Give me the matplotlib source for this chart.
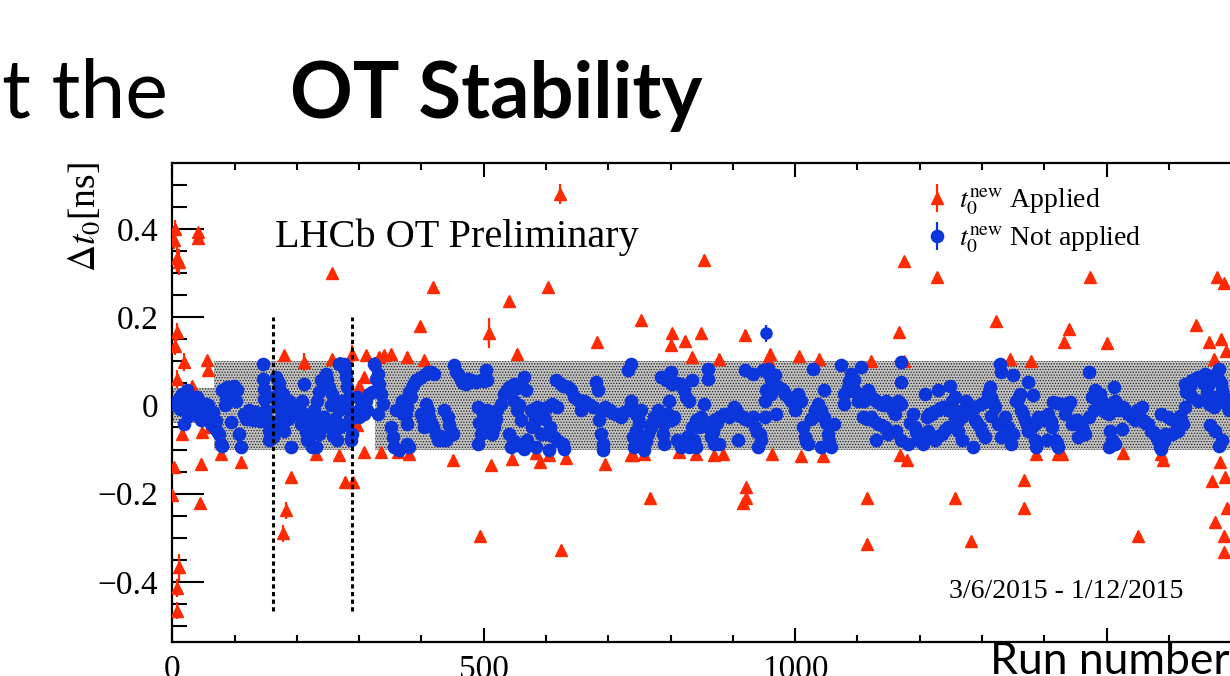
import numpy as np
import matplotlib
matplotlib.use("Agg")
from matplotlib import pyplot as plt
from matplotlib.patches import Rectangle
from matplotlib.ticker import MultipleLocator, FuncFormatter

# --- data: run number, delta t0 [ns] ---
red_run = [
    2, 5, 8, 10, 42, 42, 8, 5, 19, 56, 58, 32, 8,
    16, 48, 61, 78, 46, 110, 3, 0, 44, 10, 8, 8,
    179, 212, 257, 289, 311, 332, 351, 340, 308, 300, 297,
    230, 268, 308, 335, 363, 191, 182, 178, 278, 290, 257,
    376, 398, 404, 418, 508, 541, 553, 603, 622, 682,
    380, 451, 494, 511, 545, 584, 591, 605, 624, 632, 694, 736,
    752, 802, 800, 823, 848, 854, 920, 834, 878, 960, 957, 1006, 1039,
    739, 758, 767, 814, 841, 869, 884, 916, 921, 921, 963, 1010, 1045,
    1121, 1166, 1175, 1175, 1227, 1323, 1345, 1378, 1432, 1439, 1473,
    1116, 1116, 1168, 1180, 1257, 1283, 1367, 1367, 1386, 1422,
    1501, 1644, 1665, 1684, 1691, 1673, 1677, 1688,
    1428, 1527, 1551, 1588, 1591, 1669, 1674, 1682, 1688, 1690, 1693, 1688,
]
red_dt = [
    0.374, 0.40, 0.333, 0.325, 0.392, 0.38, 0.166, 0.135, 0.098, 0.102, 0.079, 0.045, 0.060,
    -0.064, -0.060, -0.05, -0.110, -0.132, -0.128, -0.14, -0.204, -0.222, -0.367, -0.413, -0.465,
    0.113, 0.098, 0.106, 0.117, 0.113, 0.110, 0.117, 0.113, 0.064, 0.045, -0.045,
    -0.110, -0.113, -0.106, -0.106, -0.106, -0.163, -0.238, -0.29, -0.173, -0.173, 0.30,
    0.11, 0.179, 0.102, 0.268, 0.164, 0.236, 0.117, 0.268, 0.478, 0.144,
    -0.110, -0.123, -0.295, -0.136, -0.121, -0.108, -0.128, -0.113, -0.327, -0.119, -0.132, -0.113,
    0.193, 0.163, 0.136, 0.146, 0.163, 0.33, 0.160, 0.110, 0.106, 0.117, 0.106, 0.111, 0.104,
    -0.113, -0.110, -0.209, -0.106, -0.111, -0.113, -0.111, -0.222, -0.21, -0.186, -0.110, -0.115, -0.115,
    0.101, 0.166, 0.101, 0.327, 0.29, 0.191, 0.104, 0.101, 0.144, 0.172, 0.29,
    -0.209, -0.313, -0.113, -0.123, -0.209, -0.308, -0.17, -0.232, -0.111, -0.110,
    0.141, 0.181, 0.144, 0.151, 0.123, 0.106, 0.29, 0.277,
    -0.11, -0.108, -0.295, -0.111, -0.123, -0.172, -0.265, -0.128, -0.295, -0.163, -0.232, -0.333,
]
red_err = [
    0.02, 0.02, 0.03, 0.03, 0.01, 0.01, 0.02, 0.02, 0.02, 0.01, 0.01, 0.01, 0.02,
    0.01, 0.01, 0.01, 0.01, 0.01, 0.01, 0.01, 0.01, 0.01, 0.03, 0.02, 0.02,
    0.01, 0.02, 0.01, 0.02, 0.01, 0.01, 0.01, 0.01, 0.01, 0.01, 0.01,
    0.01, 0.01, 0.01, 0.01, 0.01, 0.01, 0.02, 0.02, 0.01, 0.01, 0.01,
    0.01, 0.01, 0.01, 0.01, 0.033, 0.01, 0.01, 0.01, 0.023, 0.01,
    0.01, 0.01, 0.01, 0.01, 0.01, 0.01, 0.01, 0.01, 0.01, 0.01, 0.01, 0.01,
    0.01, 0.01, 0.01, 0.01, 0.01, 0.01, 0.01, 0.01, 0.01, 0.01, 0.01, 0.01, 0.01,
    0.01, 0.01, 0.01, 0.01, 0.01, 0.01, 0.01, 0.01, 0.01, 0.01, 0.01, 0.01, 0.01,
    0.01, 0.01, 0.01, 0.01, 0.01, 0.01, 0.01, 0.01, 0.01, 0.01, 0.01,
    0.01, 0.01, 0.01, 0.01, 0.01, 0.01, 0.01, 0.01, 0.01, 0.01,
    0.01, 0.01, 0.01, 0.01, 0.01, 0.01, 0.01, 0.01,
    0.01, 0.01, 0.01, 0.01, 0.01, 0.01, 0.01, 0.01, 0.01, 0.01, 0.01, 0.01,
]

blue_run = [
    8, 16, 24, 30, 21, 13, 32, 38, 19,
    43, 48, 54, 59, 64, 46, 62, 67,
    75, 78, 80, 72,
    80, 88, 96, 104, 91, 102, 86,
    94, 107, 110,
    115, 123, 131, 137, 129, 121,
    145, 145, 147, 147, 150, 153, 155, 155,
    166, 171, 177, 182, 169, 174, 163, 180, 161,
    188, 193, 198, 204, 209, 190, 212, 206,
    214, 220, 225, 230, 236, 217, 222, 228, 233,
    238, 247, 252, 257, 263, 268, 244, 252, 260, 265,
    268, 276, 279, 281, 273, 284, 279, 289, 287,
    297, 303, 311, 316, 308, 300,
    324, 330, 332, 335, 338, 330,
    351, 354, 356, 364, 359, 370,
    369, 377, 383, 375, 385, 391, 399, 407, 415, 420,
    377, 377, 380,
    399, 407, 412, 418, 423, 426, 434, 404, 436, 442, 447, 450, 439,
    452, 455, 463, 471, 479, 487, 495, 506, 503,
    490, 498, 506, 511, 517, 522, 527, 495, 490, 514,
    533, 541, 549, 557, 565, 568, 549, 554, 560, 541, 543, 560, 570, 565,
    576, 586, 594, 602, 610, 618, 578, 581, 592, 602, 613, 584, 605, 627, 629,
    616, 624, 635, 640, 645, 653, 661, 667, 675, 656,
    680, 683, 688, 694, 702, 710, 720, 731, 736, 685, 688, 691, 691, 731, 736,
    736, 742, 747, 752, 744, 739, 742, 758, 755, 763, 768, 774, 779, 785, 790, 795, 801, 806, 787, 790,
    785, 793, 801, 803, 817, 822, 825, 835, 830, 798,
    811, 817, 827, 830, 838, 841, 835, 841, 849, 854, 860, 860,
    860, 865, 870, 870, 878, 886, 894, 902, 908, 916, 924, 932, 935, 943, 945, 940, 908, 878,
    919, 932, 948, 956, 961, 967, 953, 951, 961, 972, 980, 988, 994, 999, 1004, 1010, 969, 951,
    1012, 1015, 1020, 1028, 1036, 1042, 1047, 1052, 1058, 1063, 1042, 1028, 1047, 1074,
    1079, 1085, 1090, 1095, 1101, 1106, 1079, 1090,
    1106, 1117, 1111, 1122, 1130, 1138, 1146, 1154, 1160, 1165, 1170, 1109, 1122, 1133, 1144, 1130, 1149,
    1170, 1170, 1162, 1170, 1181, 1189, 1192, 1197, 1205,
    1208, 1211, 1219, 1229, 1237, 1245, 1251, 1256, 1229, 1248, 1213, 1224,
    1235, 1245, 1256, 1267, 1275, 1283, 1288, 1296, 1304, 1286, 1267, 1262,
    1288, 1299, 1307, 1312, 1315, 1320, 1315, 1329, 1331, 1350, 1374, 1382,
    1326, 1337, 1342, 1331, 1347, 1350, 1355, 1361, 1363, 1369, 1374,
    1385, 1390, 1398, 1406, 1412, 1417, 1422, 1385, 1387, 1404,
    1414, 1428, 1436, 1441, 1433, 1444, 1452, 1460, 1465, 1454, 1471, 1471,
    1476, 1481, 1489, 1479, 1487, 1495, 1503, 1508, 1513, 1511, 1519, 1527, 1535, 1540, 1551, 1556,
    1546, 1559, 1567, 1572, 1578, 1583, 1586, 1588, 1594, 1588, 1599, 1610, 1618, 1623, 1615, 1605,
    1505, 1524, 1508, 1513, 1503,
    1626, 1631, 1637, 1647, 1658, 1637, 1647, 1626, 1664, 1680,
    1680, 1685, 1690, 1696, 1664, 1672, 1666, 1674, 1685, 1680,
]
blue_dt = [
    0.011, 0.026, 0.034, 0.019, 0.004, -0.008, 0.011, -0.004, -0.042,
    0.011, -0.011, 0.004, -0.019, -0.026, -0.034, -0.042, -0.049,
    -0.064, -0.087, -0.091, -0.057,
    0.034, 0.042, 0.026, 0.034, 0.011, 0.011, 0.019,
    -0.038, -0.064, -0.094,
    -0.019, -0.011, -0.023, -0.026, -0.034, -0.030,
    0.094, 0.060, 0.038, 0.015, -0.011, -0.034, -0.057, -0.079,
    0.064, 0.042, 0.026, 0.011, -0.004, -0.026, -0.049, -0.057, -0.072,
    0.011, -0.004, -0.019, -0.004, 0.011, -0.094, 0.049, -0.042,
    -0.049, -0.072, -0.094, -0.094, -0.064, -0.079, -0.034, -0.011, 0.011,
    0.057, 0.072, 0.042, 0.026, 0.011, -0.011, -0.026, -0.049, -0.064, -0.079,
    0.094, 0.094, 0.064, 0.042, 0.011, -0.011, -0.042, -0.064, -0.079,
    0.019, -0.004, 0.011, 0.026, -0.019, -0.026,
    0.094, 0.072, 0.049, 0.026, 0.004, -0.019,
    -0.049, -0.072, -0.094, -0.102, -0.011, -0.019,
    0.011, -0.004, 0.019, -0.019, 0.042, 0.057, 0.064, 0.072, 0.076, 0.072,
    -0.042, -0.087, -0.094,
    -0.019, 0.004, -0.026, -0.049, -0.064, -0.079, -0.079, -0.049, -0.011, -0.026, -0.057, -0.064, -0.079,
    0.091, 0.076, 0.057, 0.049, 0.057, 0.053, 0.057, 0.057, 0.079,
    -0.004, -0.019, -0.011, -0.034, -0.049, -0.011, 0.004, -0.064, -0.087, -0.064,
    0.026, 0.042, 0.049, 0.042, 0.064, 0.034, 0.011, -0.011, -0.034, -0.064, -0.094, -0.087, -0.079, -0.098,
    -0.011, -0.004, -0.011, -0.004, 0.004, -0.004, -0.049, -0.042, -0.064, -0.064, -0.072, -0.094, -0.102, -0.087, -0.098,
    0.057, 0.049, 0.042, 0.034, 0.019, 0.011, 0.011, 0.004, -0.004, -0.011,
    0.053, 0.034, -0.011, -0.004, -0.011, -0.019, -0.026, -0.011, 0.004, -0.034, -0.064, -0.087, -0.102, 0.079, 0.094,
    0.011, -0.011, -0.026, -0.011, -0.057, -0.072, -0.094, -0.102, -0.079, -0.064, -0.049, -0.026, -0.011, -0.026, -0.042, -0.019, -0.034, -0.026, -0.064, -0.087,
    0.064, 0.057, 0.076, 0.049, 0.049, 0.034, 0.019, 0.057, 0.011, 0.011,
    -0.079, -0.094, -0.072, -0.094, -0.079, -0.094, -0.049, -0.034, -0.026, 0.004, 0.083, 0.060,
    -0.049, -0.072, -0.087, -0.034, -0.026, -0.019, -0.026, -0.004, -0.019, -0.026, -0.034, -0.026, -0.049, -0.064, -0.079, -0.094, -0.079, -0.087,
    0.079, 0.072, 0.079, 0.083, 0.057, 0.068, 0.034, 0.011, 0.026, 0.042, 0.034, 0.019, 0.011, -0.011, 0.026, 0.011, -0.019, -0.026,
    -0.049, -0.072, -0.087, -0.026, 0.004, -0.011, -0.026, -0.064, -0.094, -0.042, -0.094, 0.083, 0.034, 0.091,
    0.026, 0.042, 0.049, 0.057, 0.011, 0.019, 0.004, 0.072,
    0.087, 0.034, 0.011, 0.019, 0.011, 0.004, 0.011, -0.004, -0.019, 0.011, 0.004, -0.026, -0.026, -0.042, -0.049, -0.079, -0.064,
    0.098, 0.053, -0.057, -0.079, -0.087, -0.019, -0.049, -0.072, -0.087,
    0.026, -0.026, -0.019, -0.011, -0.004, -0.011, 0.011, 0.019, 0.034, 0.045, -0.057, -0.079,
    -0.064, -0.049, -0.026, -0.026, 0.011, -0.011, -0.034, -0.049, -0.072, -0.094, -0.079, -0.057,
    -0.004, 0.004, 0.011, 0.042, 0.019, -0.004, -0.023, 0.094, 0.076, 0.068, 0.053, 0.023,
    -0.042, -0.026, -0.049, -0.072, -0.087, -0.064, 0.011, 0.026, -0.011, -0.034, -0.057,
    -0.042, -0.026, -0.034, -0.019, -0.049, -0.079, -0.094, -0.079, -0.094, -0.079,
    0.008, 0.004, -0.004, 0.008, -0.019, -0.042, -0.034, -0.049, -0.064, -0.072, -0.026, 0.076,
    0.019, 0.034, 0.026, -0.011, -0.004, -0.011, -0.019, 0.004, 0.011, 0.042, -0.011, -0.004, -0.019, -0.026, -0.011, -0.004,
    -0.034, -0.034, -0.042, -0.057, -0.064, -0.079, -0.094, -0.098, -0.064, -0.019, -0.026, -0.034, -0.023, -0.042, -0.057, -0.064,
    -0.057, -0.053, -0.079, -0.087, -0.094,
    0.049, 0.034, 0.057, 0.064, 0.072, 0.019, 0.011, -0.004, 0.049, 0.083,
    0.057, 0.034, 0.011, -0.011, 0.004, -0.004, -0.045, -0.057, -0.079, -0.091,
]
# more blue points read from inside the dense clusters
blue_run_dense = [
    5, 12, 27, 35, 26, 40, 52, 57, 66, 70, 90, 99, 84,
    118, 126, 134, 140, 164, 168, 176, 178, 185, 172,
    196, 201, 210, 215, 225, 232, 240, 236, 249, 255, 262, 270, 258,
    277, 283, 286, 305, 313, 320, 327,
    372, 380, 388, 395, 410, 402, 410, 415, 430, 445,
    458, 467, 475, 483, 500, 493, 502, 509, 520,
    537, 545, 553, 556, 548, 555, 580, 590, 598, 607, 620,
    628, 650, 670, 697, 705, 715, 725,
    745, 750, 760, 770, 782, 797, 804, 790, 810, 820,
    815, 822, 833, 845, 868, 875, 882, 890, 898, 905, 912, 920, 928, 938,
    958, 964, 975, 984, 992, 1000, 1018, 1025, 1032, 1050, 1055,
    1082, 1087, 1093, 1098,
    1113, 1119, 1127, 1135, 1142, 1150, 1157, 1115, 1127, 1138,
    1185, 1194, 1200, 1215, 1222, 1233, 1240, 1250, 1218, 1230, 1240,
    1260, 1270, 1279, 1292, 1300,
    1310, 1318, 1335, 1345, 1358, 1366, 1372, 1380, 1394, 1402, 1410, 1420,
    1420, 1432, 1448, 1456, 1462,
    1484, 1492, 1498, 1516, 1523, 1530, 1543, 1548, 1562, 1575, 1580, 1592, 1604, 1613, 1620,
    1628, 1634, 1642, 1652, 1655, 1661, 1670, 1676, 1683, 1688, 1693,
]
blue_dt_dense = [
    0.0, 0.02, 0.0, -0.02, -0.025, 0.02, -0.03, 0.0, -0.015, -0.035, 0.03, 0.045, 0.0,
    -0.03, -0.02, -0.015, -0.035, 0.02, 0.01, -0.01, -0.04, -0.03, 0.05,
    0.0, -0.01, -0.02, -0.06, -0.05, -0.03, -0.04, 0.03, 0.06, 0.0, -0.03, -0.05, -0.07,
    0.08, 0.02, -0.03, 0.0, -0.01, 0.03, 0.06,
    0.0, 0.03, 0.05, 0.06, 0.075, -0.03, -0.01, -0.04, -0.07, -0.045,
    0.07, 0.05, 0.06, 0.055, 0.055, -0.04, -0.03, -0.05, -0.03,
    0.035, 0.045, 0.04, 0.0, -0.08, -0.09, -0.02, -0.005, -0.03, -0.05, -0.08,
    0.045, 0.015, 0.0, -0.01, -0.015, -0.02, -0.015,
    -0.02, -0.04, -0.08, -0.04, -0.02, -0.03, -0.03, 0.065, 0.05, 0.04,
    -0.085, -0.08, -0.09, -0.05, -0.06, -0.04, -0.025, -0.02, -0.015, -0.01, -0.025, -0.03, -0.03, -0.06,
    0.07, 0.05, 0.04, 0.025, 0.015, 0.02, -0.08, -0.03, -0.01, -0.04, -0.08,
    0.03, 0.055, 0.04, 0.03,
    0.02, 0.025, 0.015, 0.005, 0.0, 0.0, -0.01, -0.03, -0.035, -0.045,
    -0.04, -0.06, -0.08, -0.02, -0.015, -0.005, -0.005, -0.005, -0.07, -0.07, -0.055,
    -0.04, -0.01, 0.0, -0.04, -0.06,
    0.025, 0.005, -0.035, -0.06, 0.015, -0.02, -0.045, -0.05, -0.03, -0.025, -0.035, -0.085,
    0.005, 0.0, -0.035, -0.045, -0.055,
    0.02, 0.01, -0.015, 0.0, -0.01, -0.01, -0.02, -0.01, -0.04, -0.06, -0.07, -0.08, -0.03, -0.045, -0.03,
    0.03, 0.045, 0.06, 0.065, 0.05, 0.03, 0.02, 0.07, 0.05, 0.02, 0.0,
]
# blue points whose error bars stick out of the marker
blue_err_run = [953, 270, 326]
blue_err_dt = [0.163, 0.095, 0.09]
blue_err_size = [0.02, 0.015, 0.02]

# tolerance band: run edges and half width [ns]
band_edges = [0, 67, 289, 325, 1800]
band_half = [0.04, 0.1, None, 0.1]

# runs where the dotted markers sit
marker_runs = [161, 288]

RED = "#ff2a00"
BLUE = "#0a36dc"

plt.rcParams["font.family"] = ["Liberation Serif", "DejaVu Serif"]
plt.rcParams["mathtext.fontset"] = "stix"
plt.rcParams["hatch.linewidth"] = 0.6

W, H = 1230, 676
fig = plt.figure(figsize=(W / 100, H / 100), dpi=100)
x_scale = 0.6229  # pixels per run
ax = fig.add_axes([172.3 / W, 34 / H, 1800 * x_scale / W, 479 / H])
ax.set_xlim(0, 1800)
ax.set_ylim(-0.536, 0.549)

for x0, x1, h in zip(band_edges[:-1], band_edges[1:], band_half):
    if h is None:
        continue
    ax.fill_between([x0, x1], [-h, -h], [h, h], facecolor="#c2c2c2",
                    edgecolor="#222222", hatch="......", linewidth=0, zorder=1)

h_red = ax.errorbar(red_run, red_dt, yerr=red_err, fmt="^", color=RED, ms=8,
                    elinewidth=1.6, capsize=0, zorder=3)
h_blue = ax.errorbar(blue_run, blue_dt, yerr=0.004, fmt="o", color=BLUE, ms=8.8,
                     elinewidth=1.6, capsize=0, zorder=4)
ax.plot(blue_run_dense, blue_dt_dense, "o", color=BLUE, ms=8.8, zorder=4)
ax.errorbar(blue_err_run, blue_err_dt, yerr=blue_err_size, fmt="o", color=BLUE,
            ms=8, elinewidth=1.6, capsize=0, zorder=4)

ax.vlines(marker_runs, -0.465, 0.2, colors="black", linewidth=2.2,
          linestyles=(0, (1.4, 1.1)), zorder=5)

ax.xaxis.set_major_locator(MultipleLocator(500))
ax.xaxis.set_minor_locator(MultipleLocator(100))
ax.yaxis.set_major_locator(MultipleLocator(0.2))
ax.yaxis.set_minor_locator(MultipleLocator(0.05))
ax.yaxis.set_major_formatter(FuncFormatter(
    lambda v, p: "0" if abs(v) < 1e-9 else f"{v:.1f}".replace("-", "\u2212")))
ax.tick_params(which="both", direction="in", top=True, right=True, width=1.5,
               labelsize=24)
ax.tick_params(axis="y", which="major", length=23, pad=10)
ax.tick_params(axis="y", which="minor", length=11)
ax.tick_params(axis="x", which="major", length=10, pad=9)
ax.tick_params(axis="x", which="minor", length=5)
for s in ax.spines.values():
    s.set_linewidth(1.6)

ax.legend([h_red, h_blue],
          [r"$t_0^{\mathrm{new}}$ Applied", r"$t_0^{\mathrm{new}}$ Not applied"],
          loc="upper left", bbox_to_anchor=(924 / W, 1 - 187 / H),
          bbox_transform=fig.transFigure, frameon=False, fontsize=20,
          handlelength=0.9, handletextpad=0.35, labelspacing=0.26,
          borderpad=0, borderaxespad=0)

fig.text(85 / W, 1 - 162 / H, r"$\Delta t_0$[ns]", rotation=90, ha="center",
         va="top", fontsize=27)
fig.text(275 / W, 1 - 247 / H, "LHCb OT Preliminary", fontsize=29,
         va="baseline")
fig.text(949 / W, 1 - 598 / H, "3/6/2015 - 1/12/2015", fontsize=20,
         va="baseline")

# slide text around the plot
fig.text(2 / W, 1 - 118 / H, "t the", family=["Lato", "DejaVu Sans"],
         fontsize=58, va="baseline")
fig.text(290 / W, 1 - 118 / H, "OT Stability", family=["Lato", "DejaVu Sans"],
         weight="bold", fontsize=56, va="baseline")
fig.patches.append(Rectangle((985 / W, 0), 245 / W, 31 / H, transform=fig.transFigure,
                             facecolor="white", edgecolor="none", zorder=10))
fig.text(990 / W, 2 / H, "Run number", family=["Lato", "DejaVu Sans"],
         fontsize=32, va="baseline", zorder=11)

fig.savefig("out.png", dpi=100)
